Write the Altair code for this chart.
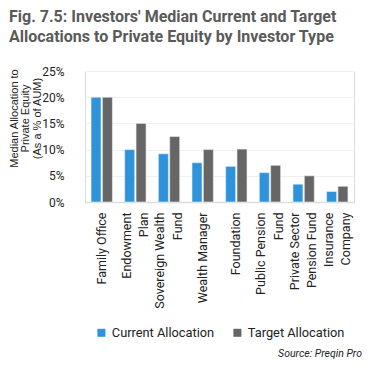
import altair as alt
import pandas as pd

categories = ["Family Office", "Endowment\nPlan", "Sovereign Wealth\nFund", "Wealth Manager",
              "Foundation", "Public Pension\nFund", "Private Sector\nPension Fund", "Insurance\nCompany"]
current = [20.0, 10.0, 9.2, 7.5, 6.8, 5.6, 3.4, 2.0]
target = [20.0, 15.0, 12.5, 10.0, 10.1, 7.0, 5.0, 3.0]
series = ["Current Allocation", "Target Allocation"]
colors = ["#2E93DA", "#676666"]
y_ticks = [0, 5, 10, 15, 20, 25]

rows = []
for c, cur, tgt in zip(categories, current, target):
    rows.append({"cat": c, "series": series[0], "value": cur / 100})
    rows.append({"cat": c, "series": series[1], "value": tgt / 100})
df = pd.DataFrame(rows)

FONT = "Roboto"

bars = alt.Chart(df).mark_bar(stroke="#e8eef3", strokeWidth=0.6).encode(
    x=alt.X("cat:N", sort=categories,
            scale=alt.Scale(paddingInner=0.366, paddingOuter=0.18),
            axis=alt.Axis(title=None, labelAngle=-90, labelAlign="right", labelBaseline="middle",
                          labelExpr="split(datum.label, '\\n')", labelLineHeight=17.5,
                          labelOffset={"condition": {"test": "indexof(datum.label, '\\n') >= 0", "value": -8.75},
                                       "value": 0},
                          labelPadding=10, ticks=False, domainColor="#dddddd", domainWidth=1.5,
                          labelFont=FONT, labelFontSize=12.5, labelColor="#222222")),
    xOffset=alt.XOffset("series:N", sort=series, scale=alt.Scale(paddingInner=0.12, paddingOuter=0)),
    y=alt.Y("value:Q", scale=alt.Scale(domain=[0, 0.25]),
            axis=alt.Axis(values=[v / 100 for v in y_ticks], format=".0%",
                          title=["Median Allocation to", "Private Equity", "(As a % of AUM)"],
                          titleFont="Liberation Sans", titleFontSize=11, titleFontWeight="normal",
                          titleColor="#222222", titleLineHeight=11.5,
                          titleX=-71, titleY=47, titleAngle=270, titleAlign="center", titleBaseline="middle",
                          labelFont=FONT, labelFontSize=12, labelColor="#222222", labelPadding=21,
                          ticks=False, domain=False, gridColor="#f0f0f0", gridWidth=1)),
    color=alt.Color("series:N", sort=series, scale=alt.Scale(domain=series, range=colors),
                    legend=alt.Legend(title=None, orient="none", direction="horizontal",
                                      legendX=10, legendY=255, symbolType="square", symbolSize=64,
                                      symbolStrokeWidth=0, labelFont=FONT, labelFontSize=12.8,
                                      labelColor="#222222", columnPadding=16, labelOffset=4)),
)

source = alt.Chart(pd.DataFrame({"t": ["Source: Preqin Pro"]})).mark_text(
    align="right", baseline="alphabetic", font=FONT, fontStyle="italic", fontSize=10.5, color="#222222"
).encode(text="t:N", x=alt.value(277), y=alt.value(286))

chart = alt.layer(bars, source).properties(
    width=269, height=131,
    autosize=alt.AutoSizeParams(type="none"),
    padding={"left": 77, "top": 63, "right": 8, "bottom": 162},
    title=alt.TitleParams(
        text=["Fig. 7.5: Investors' Median Current and Target",
              "Allocations to Private Equity by Investor Type"],
        anchor="start", frame="group", dx=-76, font=FONT, fontSize=16, fontWeight="bold",
        color="#5a5a5a", lineHeight=20, offset=20),
).configure_view(stroke=None).configure(background="white")

chart.save("out.html", embed_options={"renderer": "svg", "actions": False})
